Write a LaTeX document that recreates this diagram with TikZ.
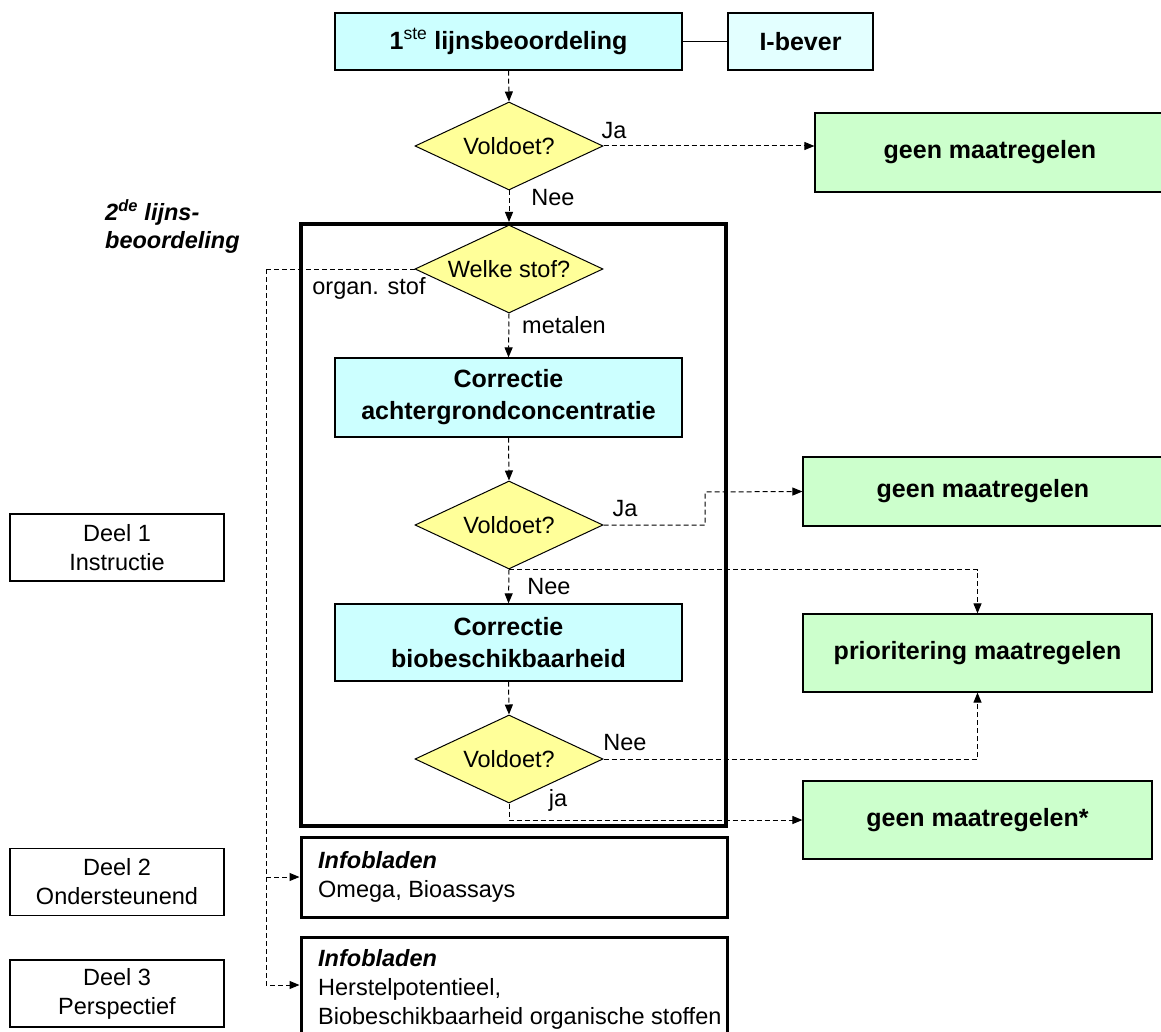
\documentclass[tikz,border=0pt]{standalone}
\usepackage{fontspec}
\setmainfont{Liberation Sans}
\usetikzlibrary{shapes.geometric,arrows.meta}
\definecolor{boxcyan}{HTML}{CCFFFF}
\definecolor{palecyan}{HTML}{E3FFFF}
\definecolor{dyellow}{HTML}{FFFF99}
\definecolor{bgreen}{HTML}{CCFFCC}
\begin{document}
\begin{tikzpicture}[x=1pt,y=-1pt,
  regtxt/.style={font=\fontsize{23.5}{29}\selectfont},
  pbox/.style={draw, line width=1.2pt, inner sep=0pt, align=center, font=\fontsize{25}{32}\selectfont\bfseries},
  dia/.style={diamond, draw, line width=1pt, fill=dyellow, inner sep=0pt, aspect=2.14, minimum width=188pt, minimum height=88pt, regtxt},
  dline/.style={dash pattern=on 5pt off 3pt, line width=1pt, -{Triangle[length=10pt,width=8pt]}},
  lbl/.style={regtxt, inner sep=0pt},
  deelbox/.style={draw, line width=1.2pt, inner sep=0pt, align=center, regtxt, minimum width=214pt, minimum height=67pt},
  infobox/.style={draw, line width=3pt, inner sep=0pt, minimum width=426pt},
  infotxt/.style={regtxt, inner sep=0pt, align=left, anchor=west}
]
\useasboundingbox (0,0) rectangle (1161,1032);

% top row
\node[pbox, fill=boxcyan, minimum width=347pt, minimum height=57pt] (top) at (508.5,41.5) {1\textsuperscript{\mdseries ste} lijnsbeoordeling};
\node[pbox, fill=palecyan, minimum width=145pt, minimum height=57pt] (ibever) at (800.5,41.5) {I-bever};
\draw[line width=1pt] (top.east) -- (ibever.west);

\node[dia] (d1) at (509,146) {Voldoet?};
\node[pbox, fill=bgreen, minimum width=350pt, minimum height=79pt] (g1) at (990,152.5) {geen maatregelen};

% second line frame
\node[draw, line width=4pt, minimum width=425pt, minimum height=602pt, inner sep=0pt] (big) at (513.5,525) {};
\node[anchor=west, inner sep=0pt, align=left, font=\fontsize{23.5}{28}\selectfont\bfseries\itshape] (lijn2) at (105,226) {2\textsuperscript{de} lijns-\\beoordeling};

\node[dia] (d2) at (509,269) {Welke stof?};
\node[pbox, fill=boxcyan, minimum width=347pt, minimum height=79pt] (c1) at (508.5,397.5) {Correctie\\achtergrondconcentratie};
\node[dia] (d3) at (509,525) {Voldoet?};
\node[pbox, fill=boxcyan, minimum width=347pt, minimum height=77pt] (c2) at (508.5,642.5) {Correctie\\biobeschikbaarheid};
\node[dia] (d4) at (509,759) {Voldoet?};

% right column
\node[pbox, fill=bgreen, minimum width=360pt, minimum height=69pt] (g2) at (983,491.5) {geen maatregelen};
\node[pbox, fill=bgreen, minimum width=349pt, minimum height=78pt] (g3) at (977.5,653) {prioritering maatregelen};
\node[pbox, fill=bgreen, minimum width=349pt, minimum height=78pt] (g4) at (977.5,820) {geen maatregelen*};

% left column
\node[deelbox] (deel1) at (117,547.5) {Deel 1\\Instructie};
\node[deelbox] (deel2) at (117,882) {Deel 2\\Ondersteunend};
\node[deelbox] (deel3) at (117,993.5) {Deel 3\\Perspectief};

% info boxes
\node[infobox, minimum height=80pt] (info1) at (514,877) {};
\node[infobox, minimum height=100pt] (info2) at (514,987) {};
\node[infotxt] (info1t) at (318,877) {\textbf{\textit{Infobladen}}\\Omega, Bioassays};
\node[infotxt] (info2t) at (318,989) {\textbf{\textit{Infobladen}}\\Herstelpotentieel,\\Biobeschikbaarheid organische stoffen};

% labels
\node[lbl] (ja1) at (614,131) {Ja};
\node[lbl] (nee1) at (553,198) {Nee};
\node[lbl] (organ) at (369,288) {organ. stof};
\node[lbl] (metalen) at (564,325) {metalen};
\node[lbl] (ja2) at (625,509) {Ja};
\node[lbl] (nee2) at (549,587) {Nee};
\node[lbl] (nee3) at (625,743) {Nee};
\node[lbl] (ja3) at (558,800) {ja};

% connectors
\draw[dline] (top.south) -- (d1.north);
\draw[dline] (d1.east) -- (g1.west |- d1.east);
\draw[dline] (d1.south) -- (d1.south |- big.north);
\draw[dline] (d2.south) -- (c1.north);
\draw[dline] (c1.south) -- (d3.north);
\coordinate (jabend) at (705,492);
\draw[dline] (d3.east) -| (jabend) -- (g2.west);
\draw[dline] (d3.south) -- (c2.north);
\draw[dline] (d3.south) -| (g3.north);
\draw[dline] (c2.south) -- (d4.north);
\draw[dline] (d4.east) -| (g3.south);
\draw[dline] (d4.south) |- (g4.west);
\coordinate (orgbend) at (266,269);
\draw[dash pattern=on 5pt off 3pt, line width=1pt] (d2.west) -- (orgbend);
\draw[dline] (orgbend) |- (info1.west);
\draw[dline] (orgbend) |- ([yshift=2pt]info2.west);
\end{tikzpicture}
\end{document}
